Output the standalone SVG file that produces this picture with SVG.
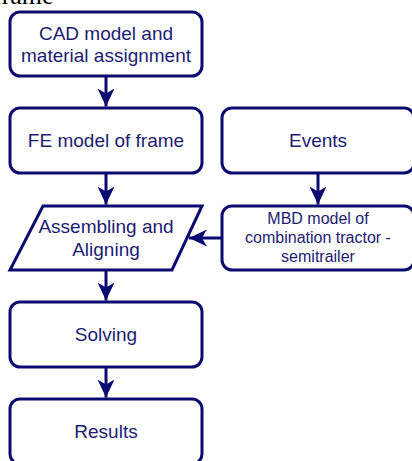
<svg xmlns="http://www.w3.org/2000/svg" width="412" height="461" viewBox="0 0 412 461">
<style>
.box{fill:#ffffff;stroke:#0a0a70;stroke-width:3}
.lbl{font-family:"Liberation Sans",Arial,sans-serif;font-size:19px;fill:#1c1c72;text-anchor:middle}
.sm{font-size:16px}
.edge{fill:none;stroke:#0a0a70;stroke-width:3}
</style>
<defs>
<marker id="ah" viewBox="-18 -9 19 18" refX="0" refY="0" markerWidth="19" markerHeight="18" markerUnits="userSpaceOnUse" orient="auto">
<path d="M0,0 L-18,-8.5 L-13,0 L-18,8.5 Z" fill="#0a0a70"/>
</marker>
</defs>
<rect width="412" height="461" fill="#ffffff"/>
<text x="-7" y="4" style="font-family:'Liberation Serif','Times New Roman',serif;font-size:26px;fill:#000000">frame</text>
<g id="connectors">
<path class="edge" d="M106,77 L106,106.5" marker-end="url(#ah)"/>
<path class="edge" d="M106,174 L106,204.5" marker-end="url(#ah)"/>
<path class="edge" d="M318,174 L318,204.5" marker-end="url(#ah)"/>
<path class="edge" d="M222,238 L189,238" marker-end="url(#ah)"/>
<path class="edge" d="M106,271 L106,300.5" marker-end="url(#ah)"/>
<path class="edge" d="M106,368 L106,397.5" marker-end="url(#ah)"/>
</g>
<g id="cad">
<rect class="box" x="10" y="12" width="192" height="64" rx="10"/>
<text class="lbl" x="106" y="40">CAD model and</text>
<text class="lbl" x="106" y="62">material assignment</text>
</g>
<g id="fe">
<rect class="box" x="10" y="108" width="192" height="65" rx="10"/>
<text class="lbl" x="106" y="147">FE model of frame</text>
</g>
<g id="events">
<rect class="box" x="222" y="108" width="192" height="65" rx="10"/>
<text class="lbl" x="318" y="147">Events</text>
</g>
<g id="assembling">
<polygon class="box" points="43,206 202,206 172,270 10,270" stroke-linejoin="miter"/>
<text class="lbl" x="106" y="233">Assembling and</text>
<text class="lbl" x="106" y="256">Aligning</text>
</g>
<g id="mbd">
<rect class="box" x="222" y="206" width="192" height="64" rx="10"/>
<text class="lbl sm" x="318" y="224">MBD model of</text>
<text class="lbl sm" x="318" y="243">combination tractor -</text>
<text class="lbl sm" x="318" y="262">semitrailer</text>
</g>
<g id="solving">
<rect class="box" x="10" y="302" width="192" height="65" rx="10"/>
<text class="lbl" x="106" y="341">Solving</text>
</g>
<g id="results">
<rect class="box" x="10" y="399" width="192" height="65" rx="10"/>
<text class="lbl" x="106" y="438">Results</text>
</g>
</svg>
